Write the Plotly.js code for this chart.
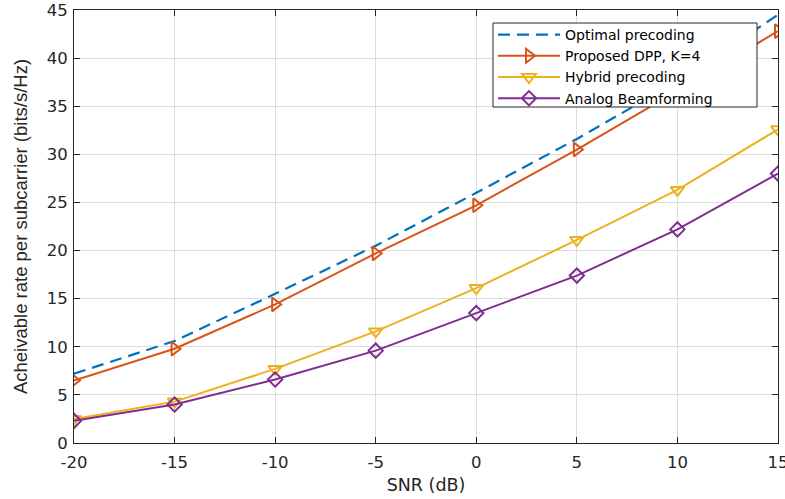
<!DOCTYPE html>
<html><head><meta charset="utf-8">
<script src="https://cdn.plot.ly/plotly-3.0.1.min.js"></script>
<style>html,body{margin:0;padding:0;background:#fff}</style>
</head><body>
<div id="chart" style="width:785px;height:499px"></div>
<script>
const snr = [-20, -15, -10, -5, 0, 5, 10, 15];
const optimal = [7.2, 10.6, 15.5, 20.5, 26.0, 31.6, 37.6, 44.5];
const proposed = [6.5, 9.8, 14.4, 19.7, 24.7, 30.5, 36.6, 42.8];
const hybrid = [2.5, 4.3, 7.7, 11.6, 16.1, 21.1, 26.3, 32.6];
const analog = [2.3, 4.0, 6.6, 9.6, 13.5, 17.4, 22.2, 28.0];
const names = ['Optimal precoding', 'Proposed DPP, K=4', 'Hybrid precoding', 'Analog Beamforming'];
const colors = ['#0072BD', '#D95319', '#EDB120', '#7E2F8E'];

const traces = [
  {x: snr, y: optimal, name: names[0], mode: 'lines', line: {color: colors[0], width: 2.2, dash: '12px,7px'}},
  {x: snr, y: proposed, name: names[1], mode: 'lines+markers', line: {color: colors[1], width: 2},
   marker: {symbol: 'triangle-right-open', size: 12, color: colors[1], line: {width: 2, color: colors[1]}}},
  {x: snr, y: hybrid, name: names[2], mode: 'lines+markers', line: {color: colors[2], width: 2},
   marker: {symbol: 'triangle-down-open', size: 12, color: colors[2], line: {width: 2, color: colors[2]}}},
  {x: snr, y: analog, name: names[3], mode: 'lines+markers', line: {color: colors[3], width: 2},
   marker: {symbol: 'diamond-open', size: 11, color: colors[3], line: {width: 2, color: colors[3]}}}
];

const tickFont = {family: 'DejaVu Sans, sans-serif', size: 16.5, color: '#262626'};
const axisCommon = {
  showline: true, linecolor: '#262626', linewidth: 1, mirror: 'ticks',
  ticks: 'inside', ticklen: 6, tickcolor: '#262626',
  showgrid: true, gridcolor: '#dcdcdc', gridwidth: 1, zeroline: false,
  tickfont: tickFont, ticklabeloverflow: 'allow'
};

// plot area: x 74..778, y 10..443
const px = v => (v - 74) / 704;
const py = v => (443 - v) / 433;

const layout = {
  width: 785, height: 499,
  margin: {l: 74, r: 7, t: 10, b: 56},
  paper_bgcolor: '#fff', plot_bgcolor: '#fff',
  showlegend: true,
  xaxis: Object.assign({}, axisCommon, {
    range: [-20, 15.0001], tickvals: snr, ticktext: snr.map(String),
    ticklabelstandoff: 4,
    title: {text: 'SNR (dB)', standoff: 7, font: {family: 'DejaVu Sans, sans-serif', size: 17.5, color: '#262626'}}
  }),
  yaxis: Object.assign({}, axisCommon, {
    range: [0, 45.0001], dtick: 5,
    ticklabelstandoff: 2,
    title: {text: 'Acheivable rate per subcarrier (bits/s/Hz)', standoff: 14, font: {family: 'Liberation Sans, Arial, sans-serif', size: 18.5, color: '#262626'}}
  }),
  shapes: [{
    type: 'rect', xref: 'paper', yref: 'paper', layer: 'above',
    x0: px(493), x1: px(757), y0: py(107), y1: py(23),
    fillcolor: 'rgba(255,255,255,1)', opacity: 1, line: {color: '#262626', width: 1}
  }],
  legend: {
    x: px(493), y: py(19), xanchor: 'left', yanchor: 'top',
    bgcolor: 'rgba(0,0,0,0)', borderwidth: 0,
    font: {family: 'DejaVu Sans, sans-serif', size: 14, color: '#000'},
    itemwidth: 62, tracegroupgap: 0
  }
};

Plotly.newPlot('chart', traces, layout, {displayModeBar: false, staticPlot: true});
</script>
</body></html>
